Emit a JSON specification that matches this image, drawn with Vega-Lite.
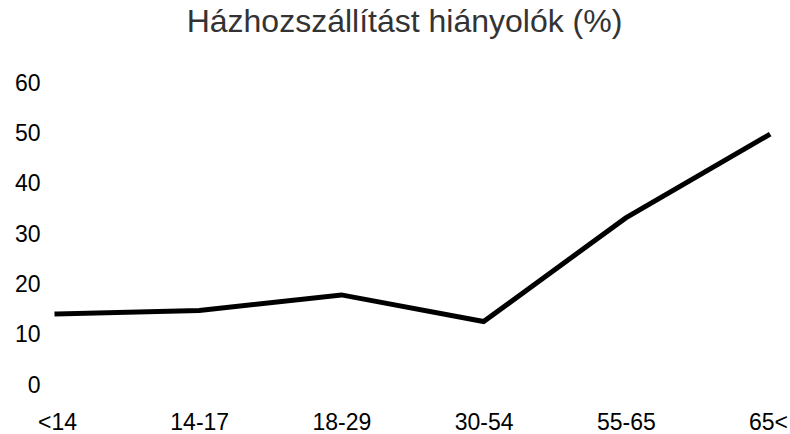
{
  "$schema": "https://vega.github.io/schema/vega-lite/v6.json",
  "autosize": {"type": "none"},
  "width": 711,
  "height": 302,
  "padding": {"left": 57, "top": 83, "right": 22, "bottom": 49},
  "background": "white",
  "title": {
    "text": "Házhozszállítást hiányolók (%)",
    "font": "Liberation Sans",
    "fontSize": 32,
    "fontWeight": "normal",
    "color": "#333333",
    "anchor": "middle",
    "frame": "group",
    "baseline": "alphabetic",
    "offset": 8,
    "dx": -8
  },
  "data": {
    "values": [
      {"kor": "<14", "ertek": 14.1},
      {"kor": "14-17", "ertek": 14.8},
      {"kor": "18-29", "ertek": 17.9},
      {"kor": "30-54", "ertek": 12.6},
      {"kor": "55-65", "ertek": 33.2},
      {"kor": "65<", "ertek": 49.6}
    ]
  },
  "mark": {"type": "line", "color": "black", "strokeWidth": 5, "strokeJoin": "miter", "strokeCap": "square"},
  "encoding": {
    "x": {
      "field": "kor",
      "type": "ordinal",
      "sort": null,
      "scale": {"type": "point", "padding": 0},
      "axis": {
        "title": null,
        "labelAngle": 0,
        "domain": false,
        "ticks": false,
        "grid": false,
        "labelFont": "Liberation Sans",
        "labelFontSize": 23,
        "labelColor": "black",
        "labelPadding": 26
      }
    },
    "y": {
      "field": "ertek",
      "type": "quantitative",
      "scale": {"domain": [0, 60]},
      "axis": {
        "title": null,
        "values": [0, 10, 20, 30, 40, 50, 60],
        "domain": false,
        "ticks": false,
        "grid": false,
        "labelFont": "Liberation Sans",
        "labelFontSize": 23,
        "labelColor": "black",
        "labelPadding": 17
      }
    }
  },
  "config": {"view": {"stroke": null}}
}
